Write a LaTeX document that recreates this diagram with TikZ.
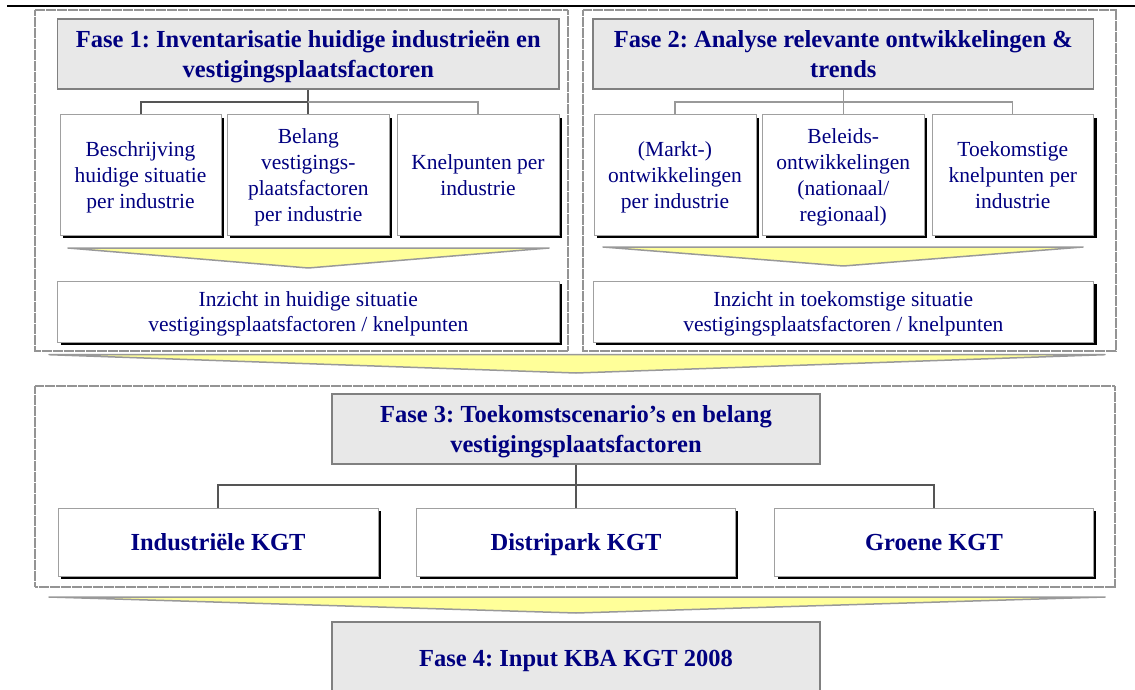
\documentclass[tikz,border=0pt]{standalone}
\usepackage{fontspec}
\setmainfont{Liberation Serif}
\usepackage{xcolor}
\usepackage{tikz}
\usetikzlibrary{shadows}
\frenchspacing

\definecolor{navytext}{HTML}{000080}
\definecolor{fasefill}{HTML}{E8E8E8}
\definecolor{faseline}{HTML}{808080}
\definecolor{boxline}{HTML}{A0A0A0}
\definecolor{linkdark}{HTML}{555555}
\definecolor{chevfill}{HTML}{FFFF99}

\tikzset{
  fase/.style={draw=faseline, fill=fasefill, line width=1.5pt, text=navytext, align=center,
    inner sep=0pt, text depth=0pt, font=\bfseries\fontsize{24.5}{30}\selectfont},
  deelbox/.style={draw=boxline, fill=white, line width=1pt, text=navytext, align=center,
    inner sep=0pt, text depth=0pt, font=\fontsize{21.5}{25.7}\selectfont,
    drop shadow={shadow xshift=3pt, shadow yshift=-3pt, fill=black, opacity=1}},
  kgtbox/.style={deelbox, font=\bfseries\fontsize{24.5}{30}\selectfont},
  kader/.style={draw=black!42, line width=2pt, dash pattern=on 0.6pt off 0.5pt},
  pijl/.style={draw=black!40, line width=1.5pt, fill=chevfill, line join=round},
  tak/.style={draw=linkdark, line width=2pt},
  dunnetak/.style={draw=black!40, line width=1.2pt},
}

\begin{document}
\begin{tikzpicture}[x=1pt, y=-1pt]
        \useasboundingbox (0,0) rectangle (1135,690);
        \draw[line width=2pt] (7,6) -- (1135,6);

        % Fase 1
        \draw[kader] (35,10) rectangle (568,351);
        \node[fase, minimum width=501.5pt, minimum height=70pt] (f1) at (308.3,54) {Fase 1: Inventarisatie huidige industrieën en\\vestigingsplaatsfactoren};
        \node[deelbox, minimum width=161pt, minimum height=120pt] (f1a) at (140.5,175) {Beschrijving\\huidige situatie\\per industrie};
        \node[deelbox, minimum width=162pt, minimum height=120pt] (f1b) at (308.3,175) {Belang\\vestigings-\\plaatsfactoren\\per industrie};
        \node[deelbox, minimum width=162pt, minimum height=120pt] (f1c) at (478,175) {Knelpunten per\\industrie};
        \coordinate (f1fork) at (308.3,102);
        \draw[tak] (f1.south) -- (f1fork);
        \draw[tak] (f1fork) -| (f1a.north);
        \draw[tak] (f1fork) -- (f1b.north);
        \draw[dunnetak] (f1fork) -| (f1c.north);
        \draw[pijl] (68,248) -- (549,248) -- (308.3,268) -- cycle;
        \node[deelbox, minimum width=501.5pt, minimum height=61pt] (f1uit) at (308.3,311.5) {Inzicht in huidige situatie\\vestigingsplaatsfactoren / knelpunten};

        % Fase 2
        \draw[kader] (583,10) rectangle (1115.5,351);
        \node[fase, minimum width=500.6pt, minimum height=70pt] (f2) at (843.3,54) {Fase 2: Analyse relevante ontwikkelingen \&\\trends};
        \node[deelbox, minimum width=162pt, minimum height=120pt] (f2a) at (675,175) {(Markt-)\\ontwikkelingen\\per industrie};
        \node[deelbox, minimum width=161.5pt, minimum height=120pt] (f2b) at (843.3,175) {Beleids-\\ontwikkelingen\\(nationaal/\\regionaal)};
        \node[deelbox, minimum width=161.6pt, minimum height=120pt] (f2c) at (1012.8,175) {Toekomstige\\knelpunten per\\industrie};
        \coordinate (f2fork) at (843.3,102);
        \draw[dunnetak] (f2.south) -- (f2fork);
        \draw[dunnetak] (f2fork) -| (f2a.north);
        \draw[dunnetak] (f2fork) -- (f2b.north);
        \draw[dunnetak] (f2fork) -| (f2c.north);
        \draw[pijl] (603,247) -- (1083,247) -- (843.3,266) -- cycle;
        \node[deelbox, minimum width=500.6pt, minimum height=61pt] (f2uit) at (843.3,311.5) {Inzicht in toekomstige situatie\\vestigingsplaatsfactoren / knelpunten};

        \draw[pijl] (49,354.7) -- (1105,354.7) -- (576,373) -- cycle;

        % Fase 3
        \draw[kader] (35,385.7) rectangle (1114.5,586.7);
        \node[fase, minimum width=488pt, minimum height=70pt] (f3) at (576,429) {Fase 3: Toekomstscenario’s en belang\\vestigingsplaatsfactoren};
        \node[kgtbox, minimum width=320pt, minimum height=68pt] (k1) at (218,542) {Industriële KGT};
        \node[kgtbox, minimum width=318.5pt, minimum height=68pt] (k2) at (576,542) {Distripark KGT};
        \node[kgtbox, minimum width=318.5pt, minimum height=68pt] (k3) at (934,542) {Groene KGT};
        \coordinate (f3fork) at (576,485);
        \draw[tak] (f3.south) -- (f3fork);
        \draw[tak] (f3fork) -| (k1.north);
        \draw[tak] (f3fork) -- (k2.north);
        \draw[tak] (f3fork) -| (k3.north);

        \draw[pijl] (49,597) -- (1105,597) -- (576,613) -- cycle;

        % Fase 4
        \node[fase, minimum width=488pt, minimum height=72pt] (f4) at (576,658) {Fase 4: Input KBA KGT 2008};
\end{tikzpicture}
\end{document}
